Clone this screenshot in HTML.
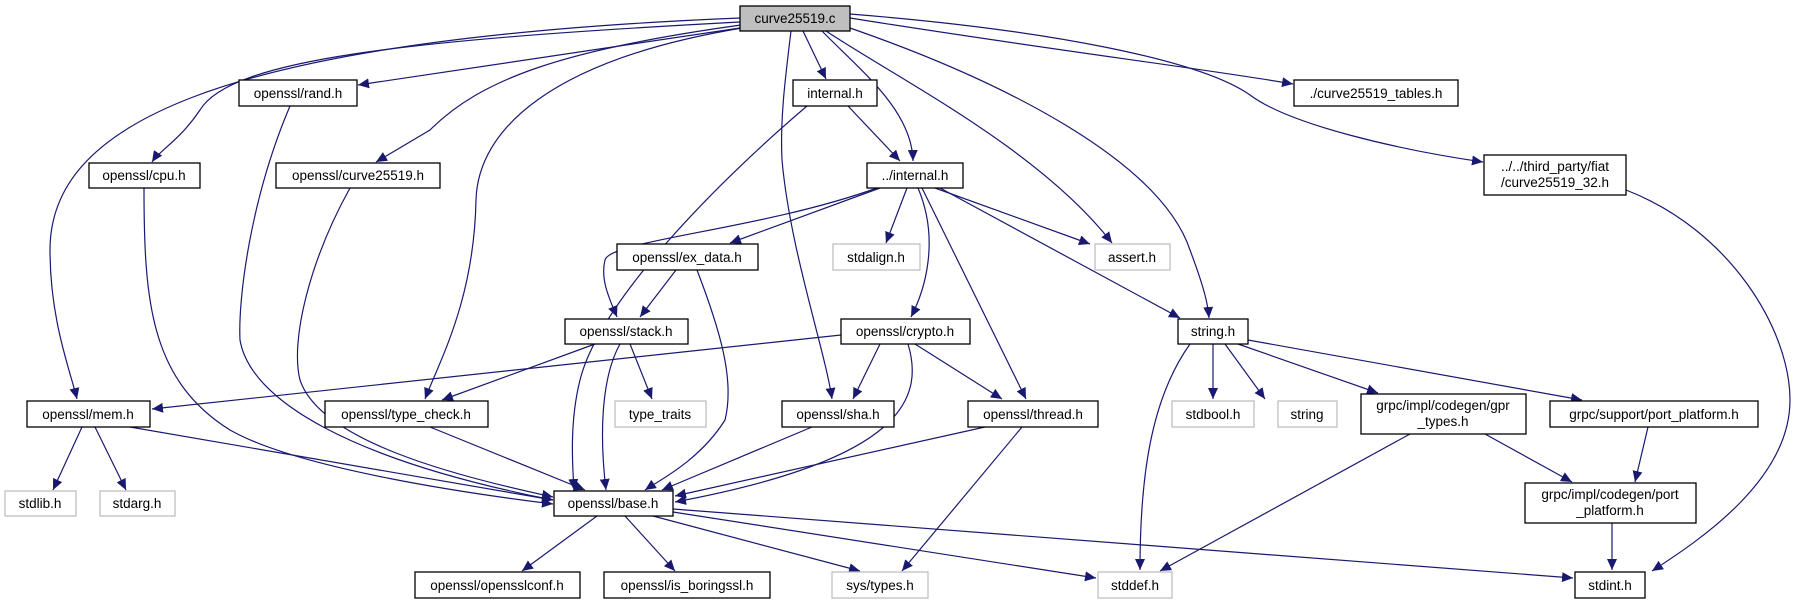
<!DOCTYPE html>
<html><head><meta charset="utf-8"><style>
html,body{margin:0;padding:0;background:#fff;}
svg{display:block;}
text{font-family:"Liberation Sans",sans-serif;font-size:13.5px;text-anchor:middle;fill:#000;}
.e{fill:none;stroke:#191970;stroke-width:1.2;marker-end:url(#a);}
.n{fill:#fff;stroke:#000;stroke-width:1.3;}
.g{fill:#fff;stroke:#bfbfbf;stroke-width:1.3;}
</style></head><body>
<svg width="1806" height="604" viewBox="0 0 1806 604" xmlns="http://www.w3.org/2000/svg">
<defs><marker id="a" markerUnits="userSpaceOnUse" markerWidth="12" markerHeight="10" refX="11" refY="5" orient="auto"><path d="M0,0 L11,5 L0,10 z" fill="#191970"/></marker></defs>
<g>
<path class="e" d="M740,18 C200,40 50,130 50,250 C50,320 70,370 77,399"/>
<path class="e" d="M740,22 C400,40 230,60 200,110 C180,140 160,150 152,162"/>
<path class="e" d="M740,28 L358,85"/>
<path class="e" d="M741,25 C560,50 480,80 430,130 L376,162"/>
<path class="e" d="M742,28 C550,60 478,130 476,200 C474,300 440,360 425,399"/>
<path class="e" d="M791,31 C785,80 780,120 782,160 C790,250 825,350 832,399"/>
<path class="e" d="M803,31 L826,79"/>
<path class="e" d="M822,31 C860,70 912,110 913,161"/>
<path class="e" d="M826,31 C900,80 1040,150 1112,243"/>
<path class="e" d="M850,28 C1000,80 1160,160 1190,250 C1205,290 1208,305 1209,318"/>
<path class="e" d="M850,18 C1050,50 1200,68 1293,84"/>
<path class="e" d="M850,14 C1050,30 1200,60 1250,95 C1290,125 1400,150 1483,162"/>
<path class="e" d="M807,106 C720,180 600,300 580,380 C570,420 572,460 574,490"/>
<path class="e" d="M848,106 L900,161"/>
<path class="e" d="M290,106 C250,200 238,300 240,340 C250,400 350,460 553,500"/>
<path class="e" d="M144,188 C144,300 150,380 230,430 C300,470 480,495 553,504"/>
<path class="e" d="M350,188 C310,260 290,340 300,380 C320,440 450,475 553,497"/>
<path class="e" d="M130,427 L553,500"/>
<path class="e" d="M82,427 L53,490"/>
<path class="e" d="M95,427 L126,490"/>
<path class="e" d="M430,427 L585,490"/>
<path class="e" d="M595,344 L442,400"/>
<path class="e" d="M630,344 L652,399"/>
<path class="e" d="M620,344 C600,380 600,440 606,490"/>
<path class="e" d="M676,270 L640,317"/>
<path class="e" d="M697,270 C720,330 735,380 725,420 C700,460 660,480 645,490"/>
<path class="e" d="M877,188 C760,230 610,240 605,260 C600,280 610,300 617,317"/>
<path class="e" d="M880,188 L730,243"/>
<path class="e" d="M907,188 L886,243"/>
<path class="e" d="M935,188 L1090,244"/>
<path class="e" d="M918,188 C940,240 925,290 911,317"/>
<path class="e" d="M922,188 L1026,399"/>
<path class="e" d="M940,188 L1180,318"/>
<path class="e" d="M841,335 L152,409"/>
<path class="e" d="M880,344 L853,399"/>
<path class="e" d="M908,344 C925,400 900,460 675,502"/>
<path class="e" d="M915,344 L1002,399"/>
<path class="e" d="M812,427 L662,490"/>
<path class="e" d="M985,427 L675,496"/>
<path class="e" d="M1022,427 L902,571"/>
<path class="e" d="M1190,344 C1150,400 1140,480 1140,570"/>
<path class="e" d="M1213,344 L1213,399"/>
<path class="e" d="M1225,344 L1265,399"/>
<path class="e" d="M1238,344 L1378,393"/>
<path class="e" d="M1248,340 L1582,400"/>
<path class="e" d="M1410,434 L1160,571"/>
<path class="e" d="M1485,434 L1572,482"/>
<path class="e" d="M1648,427 L1635,482"/>
<path class="e" d="M1612,523 L1612,570"/>
<path class="e" d="M1626,190 C1730,230 1790,330 1790,400 C1790,480 1700,540 1652,571"/>
<path class="e" d="M597,516 L522,571"/>
<path class="e" d="M625,516 L675,571"/>
<path class="e" d="M653,516 L860,571"/>
<path class="e" d="M673,512 L1096,578"/>
<path class="e" d="M673,509 L1573,578"/>
</g>
<g>
<rect x="740" y="6" width="110" height="25" fill="#bfbfbf" stroke="#000" stroke-width="1.3"/><text x="795" y="23">curve25519.c</text>
<rect class="n" x="239" y="80" width="118" height="26"/><text x="298" y="98">openssl/rand.h</text>
<rect class="n" x="793" y="80" width="84" height="26"/><text x="835" y="98">internal.h</text>
<rect class="n" x="1294" y="80" width="164" height="26"/><text x="1376" y="98">./curve25519_tables.h</text>
<rect class="n" x="89" y="163" width="111" height="25"/><text x="144" y="180">openssl/cpu.h</text>
<rect class="n" x="276" y="163" width="164" height="25"/><text x="358" y="180">openssl/curve25519.h</text>
<rect class="n" x="867" y="163" width="96" height="25"/><text x="915" y="180">../internal.h</text>
<rect class="n" x="1484" y="155" width="142" height="40"/><text x="1555" y="171">../../third_party/fiat</text><text x="1555" y="187">/curve25519_32.h</text>
<rect class="n" x="617" y="244" width="141" height="26"/><text x="687" y="262">openssl/ex_data.h</text>
<rect class="g" x="833" y="244" width="87" height="26"/><text x="876" y="262">stdalign.h</text>
<rect class="g" x="1095" y="244" width="75" height="26"/><text x="1132" y="262">assert.h</text>
<rect class="n" x="565" y="319" width="123" height="25"/><text x="626" y="336">openssl/stack.h</text>
<rect class="n" x="841" y="319" width="129" height="25"/><text x="905" y="336">openssl/crypto.h</text>
<rect class="n" x="1178" y="319" width="70" height="25"/><text x="1213" y="336">string.h</text>
<rect class="n" x="27" y="401" width="123" height="26"/><text x="88" y="419">openssl/mem.h</text>
<rect class="n" x="325" y="401" width="163" height="26"/><text x="406" y="419">openssl/type_check.h</text>
<rect class="g" x="615" y="401" width="91" height="26"/><text x="660" y="419">type_traits</text>
<rect class="n" x="782" y="401" width="112" height="26"/><text x="838" y="419">openssl/sha.h</text>
<rect class="n" x="968" y="401" width="130" height="26"/><text x="1033" y="419">openssl/thread.h</text>
<rect class="g" x="1172" y="401" width="82" height="26"/><text x="1213" y="419">stdbool.h</text>
<rect class="g" x="1278" y="401" width="59" height="26"/><text x="1307" y="419">string</text>
<rect class="n" x="1361" y="394" width="165" height="40"/><text x="1443" y="410">grpc/impl/codegen/gpr</text><text x="1443" y="426">_types.h</text>
<rect class="n" x="1550" y="401" width="208" height="26"/><text x="1654" y="419">grpc/support/port_platform.h</text>
<rect class="g" x="5" y="491" width="71" height="25"/><text x="40" y="508">stdlib.h</text>
<rect class="g" x="100" y="491" width="75" height="25"/><text x="137" y="508">stdarg.h</text>
<rect class="n" x="554" y="491" width="119" height="25"/><text x="613" y="508">openssl/base.h</text>
<rect class="n" x="1525" y="483" width="171" height="40"/><text x="1610" y="499">grpc/impl/codegen/port</text><text x="1610" y="515">_platform.h</text>
<rect class="n" x="415" y="572" width="165" height="26"/><text x="497" y="590">openssl/opensslconf.h</text>
<rect class="n" x="604" y="572" width="166" height="26"/><text x="687" y="590">openssl/is_boringssl.h</text>
<rect class="g" x="832" y="572" width="96" height="26"/><text x="880" y="590">sys/types.h</text>
<rect class="g" x="1098" y="572" width="74" height="26"/><text x="1135" y="590">stddef.h</text>
<rect class="n" x="1575" y="572" width="70" height="26"/><text x="1610" y="590">stdint.h</text>
</g>
</svg>
</body></html>
